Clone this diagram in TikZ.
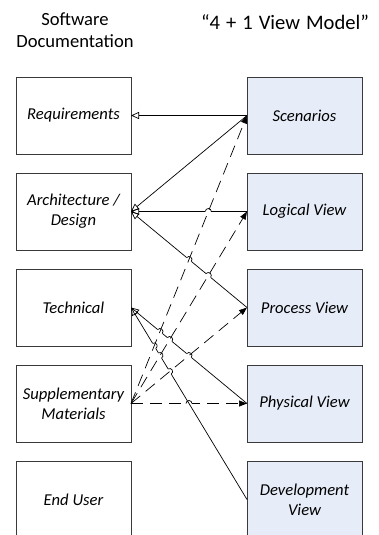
\documentclass[tikz,border=0pt]{standalone}
\usepackage{fontspec}
\setmainfont{Carlito}
\usepackage{xcolor}
\definecolor{ViewFill}{HTML}{E7EDF8}
\definecolor{BoxLine}{HTML}{3A3A3A}
\usepackage{tikz}
\usetikzlibrary{arrows.meta, positioning, calc, intersections}
\tikzset{
  % Box styles
  docbox/.style={rectangle, draw=BoxLine, fill=white, line width=0.8pt, minimum width=115pt, minimum height=77pt, inner sep=2pt, outer sep=0pt, font=\fontsize{16.6}{20}\selectfont\itshape, align=center},
  viewbox/.style={docbox, fill=ViewFill},
  titletext/.style={font=\fontsize{18.6}{21.5}\selectfont, align=center},
  % Arrow styles
  genarrow/.style={-{Triangle[open, length=8pt, width=7pt]}, line width=0.7pt, black},
  usearrow/.style={-{Triangle[length=8pt, width=6pt]}, line width=0.7pt, black, dash pattern=on 12pt off 7pt},
  hopline/.style={line width=0.7pt, black}
}
% small bump where one connector jumps another
\newcommand{\hopover}[4]{%
  \path[name intersections={of=#1 and #2, by=hopc}];
  \draw[white, line width=2.2pt] ($(hopc)!3pt!(#3)$) -- ($(hopc)!3pt!(#4)$);
  \draw[hopline] let \p1=($(#4)-(#3)$), \n1={atan2(\y1,\x1)} in
    ($(hopc)!3pt!(#3)$) arc[start angle=\n1+180, end angle=\n1, radius=3pt];
}

\begin{document}
\begin{tikzpicture}[x=1pt, y=1pt, node distance=19pt and 116pt]
  \useasboundingbox (0,0) rectangle (379,-535);

  % column titles
  \node[titletext] (doctitle) at (75,-30) {Software\\Documentation};
  \node[titletext, anchor=base, font=\fontsize{20.6}{22}\selectfont] (viewtitle) at (285,-30) {\spaceskip=6pt\relax “4 + 1 View Model”};

  % documentation
  \node[docbox] (req) at (73.5,-115.5) {Requirements};
  \node[docbox, below=of req] (arch) {Architecture /\\Design};
  \node[docbox, below=of arch] (tech) {Technical};
  \node[docbox, below=of tech] (supp) {Supplementary\\Materials};
  \node[docbox, below=of supp] (user) {End User};

  % views
  \node[viewbox, right=of req] (scen) {Scenarios};
  \node[viewbox, below=of scen] (logic) {Logical View};
  \node[viewbox, below=of logic] (proc) {Process View};
  \node[viewbox, below=of proc] (phys) {Physical View};
  \node[viewbox, below=of phys] (dev) {Development\\View};

  \path[name path=s1] (req.east) -- (scen.west);
  \path[name path=s2] (arch.east) -- (scen.west);
  \path[name path=s3] (arch.east) -- (logic.west);
  \path[name path=s4] (arch.east) -- (proc.west);
  \path[name path=s5] (tech.east) -- (phys.west);
  \path[name path=s6] (tech.east) -- (dev.west);
  \path[name path=d1] (supp.east) -- (scen.west);
  \path[name path=d2] (supp.east) -- (logic.west);
  \path[name path=d3] (supp.east) -- (proc.west);
  \path[name path=d4] (supp.east) -- (phys.west);

  \draw[usearrow] (supp.east) -- (phys.west);
  \hopover{d4}{s6}{supp.east}{phys.west}

  \draw[genarrow] (scen.west) -- (req.east);
  \draw[genarrow] (scen.west) -- (arch.east);
  \draw[genarrow] (logic.west) -- (arch.east);
  \draw[genarrow] (proc.west) -- (arch.east);
  \draw[genarrow] (phys.west) -- (tech.east);
  \draw[genarrow] (dev.west) -- (tech.east);

  \hopover{s3}{d1}{arch.east}{logic.west}
  \hopover{s4}{d1}{arch.east}{proc.west}
  \hopover{s4}{d2}{arch.east}{proc.west}
  \hopover{s5}{d1}{tech.east}{phys.west}
  \hopover{s5}{d2}{tech.east}{phys.west}
  \hopover{s5}{d3}{tech.east}{phys.west}
  \hopover{s6}{d1}{tech.east}{dev.west}
  \hopover{s6}{d2}{tech.east}{dev.west}
  \hopover{s6}{d3}{tech.east}{dev.west}

  \draw[usearrow] (supp.east) -- (scen.west);
  \draw[usearrow] (supp.east) -- (logic.west);
  \draw[usearrow] (supp.east) -- (proc.west);
\end{tikzpicture}
\end{document}
